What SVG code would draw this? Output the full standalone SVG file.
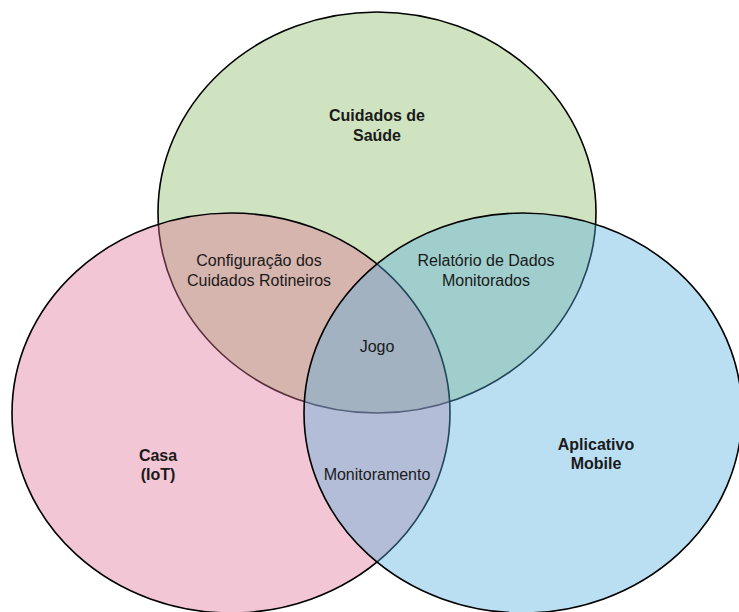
<svg xmlns="http://www.w3.org/2000/svg" width="739" height="612" viewBox="0 0 739 612">
<style>
.c{stroke:#000;stroke-width:1.6}
.t{font-family:"Liberation Sans",Arial,sans-serif;font-size:16px;fill:#1a1a1a;text-anchor:middle}
.b{font-weight:bold}
</style>
<rect width="739" height="612" fill="#fff"/>
<g id="saude"><ellipse class="c" cx="377" cy="212.5" rx="219" ry="200.5" fill="rgb(208,227,192)"/></g>
<g id="casa"><ellipse class="c" cx="231" cy="413" rx="219" ry="200" fill="rgb(222,112,147)" fill-opacity="0.4"/></g>
<g id="app"><ellipse class="c" cx="523" cy="413" rx="219" ry="200" fill="rgb(85,175,222)" fill-opacity="0.4"/></g>
<g id="labels">
<text class="t b" x="377" y="121">Cuidados de</text>
<text class="t b" x="377" y="141">Saúde</text>
<text class="t b" x="158" y="461">Casa</text>
<text class="t b" x="158" y="480">(IoT)</text>
<text class="t b" x="596" y="450">Aplicativo</text>
<text class="t b" x="596" y="469">Mobile</text>
<text class="t" x="259" y="266">Configuração dos</text>
<text class="t" x="259" y="285.5">Cuidados Rotineiros</text>
<text class="t" x="486" y="266">Relatório de Dados</text>
<text class="t" x="486" y="285.5">Monitorados</text>
<text class="t" x="377" y="352">Jogo</text>
<text class="t" x="377" y="480">Monitoramento</text>
</g>
<g id="connectors"/>
</svg>
